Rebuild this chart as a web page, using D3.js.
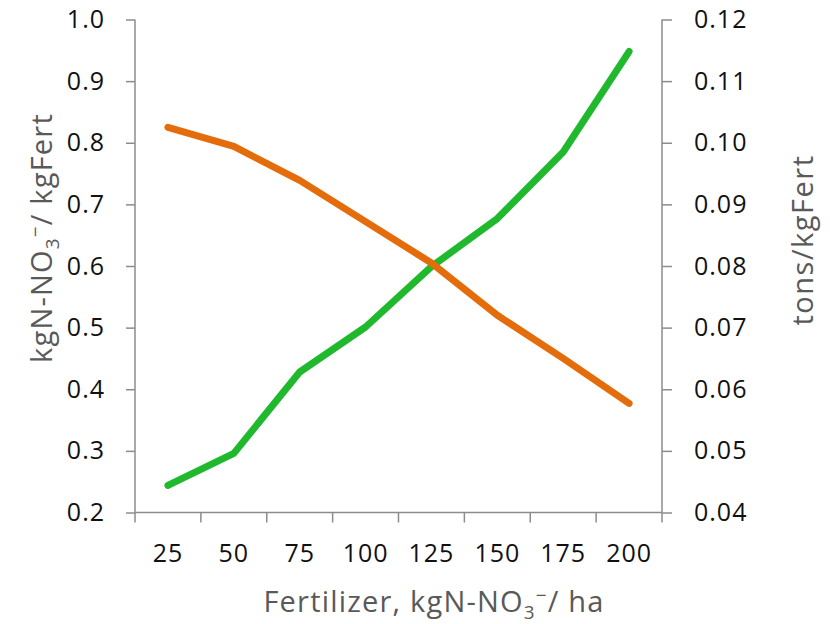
<!DOCTYPE html>
<html>
<head>
<meta charset="utf-8">
<script src="https://cdn.jsdelivr.net/npm/d3@7"></script>
<style>
  body { margin: 0; background: #fff; }
  svg text { font-family: "Open Sans", sans-serif; }
</style>
</head>
<body>
<div id="canvas"></div>
<script>
// data
var fertilizer = ["25", "50", "75", "100", "125", "150", "175", "200"];
var leaching = [0.244, 0.296, 0.428, 0.501, 0.599, 0.677, 0.785, 0.948];      // left axis, kgN-NO3/kgFert
var yieldPerFert = [0.1025, 0.0994, 0.0939, 0.0872, 0.0805, 0.0720, 0.0650, 0.0577]; // right axis, tons/kgFert
var leftTicks = [0.2, 0.3, 0.4, 0.5, 0.6, 0.7, 0.8, 0.9, 1.0];
var rightTicks = [0.04, 0.05, 0.06, 0.07, 0.08, 0.09, 0.10, 0.11, 0.12];

var W = 830, H = 624;
var plot = {left: 135, right: 662, top: 19.5, bottom: 512.5};

var svg = d3.select("#canvas").append("svg")
    .attr("width", W)
    .attr("height", H);

var x = d3.scaleBand().domain(fertilizer).range([plot.left, plot.right]).padding(0);
var yL = d3.scaleLinear().domain([0.2, 1.0]).range([plot.bottom, plot.top]);
var yR = d3.scaleLinear().domain([0.04, 0.12]).range([plot.bottom, plot.top]);

var axisColor = "#8c8c8c";
var tickColor = "#111";
var titleColor = "#595959";

// left axis
var gl = svg.append("g")
    .attr("transform", "translate(" + plot.left + ",0)")
    .call(d3.axisLeft(yL).tickValues(leftTicks).tickSize(9).tickPadding(21)
        .tickFormat(d3.format(".1f")));

// right axis
var gr = svg.append("g")
    .attr("transform", "translate(" + plot.right + ",0)")
    .call(d3.axisRight(yR).tickValues(rightTicks).tickSize(10).tickPadding(22)
        .tickFormat(d3.format(".2f")));

// bottom axis: labels centred in bands, ticks at the band edges
var gb = svg.append("g")
    .attr("transform", "translate(0," + plot.bottom + ")")
    .call(d3.axisBottom(x).tickSize(0).tickPadding(41));
var edges = fertilizer.map(function(d) { return x(d); }).concat([plot.right]);
gb.selectAll("line.edge")
    .data(edges)
    .enter().append("line")
    .attr("class", "edge")
    .attr("x1", function(d) { return d; })
    .attr("x2", function(d) { return d; })
    .attr("y1", 0)
    .attr("y2", 10);

[gl, gr, gb].forEach(function(g) {
    g.select(".domain").attr("stroke", axisColor).attr("stroke-width", 1.5);
    g.selectAll("line").attr("stroke", axisColor).attr("stroke-width", 1.5);
    g.selectAll("text").attr("fill", tickColor)
        .style("font-size", "25px").style("letter-spacing", "1px");
});
// plain lines for the axes, no end caps
gl.select(".domain").attr("d", "M0," + plot.top + "V" + plot.bottom);
gr.select(".domain").attr("d", "M0," + plot.top + "V" + plot.bottom);
gb.select(".domain").attr("d", "M" + plot.left + ",0H" + plot.right);
gb.selectAll(".tick text").attr("dy", "0.32em");

// lines
var lineL = d3.line()
    .x(function(d, i) { return x(fertilizer[i]) + x.bandwidth() / 2; })
    .y(function(d) { return yL(d); });
var lineR = d3.line()
    .x(function(d, i) { return x(fertilizer[i]) + x.bandwidth() / 2; })
    .y(function(d) { return yR(d); });

svg.append("path")
    .datum(leaching)
    .attr("d", lineL)
    .attr("fill", "none")
    .attr("stroke", "#20b92d")
    .attr("stroke-width", 7)
    .attr("stroke-linecap", "round")
    .attr("stroke-linejoin", "round");

svg.append("path")
    .datum(yieldPerFert)
    .attr("d", lineR)
    .attr("fill", "none")
    .attr("stroke", "#e46c0a")
    .attr("stroke-width", 7)
    .attr("stroke-linecap", "round")
    .attr("stroke-linejoin", "round");

// axis titles, NO3 with subscript 3 and raised minus (offsets in px so the tail sits on the baseline)
function no3(t, pre, post) {
    t.append("tspan").text(pre);
    t.append("tspan").attr("font-size", "0.65em").attr("dy", 7).text("3");
    t.append("tspan").attr("font-size", "0.65em").attr("dy", -17).text("\u2212");
    t.append("tspan").attr("dy", 10).text(post);
}

var tx = svg.append("text")
    .attr("x", 434)
    .attr("y", 612)
    .attr("text-anchor", "middle")
    .attr("fill", titleColor)
    .style("font-size", "29px")
    .style("letter-spacing", "1.2px");
no3(tx, "Fertilizer, kgN-NO", "/ ha");

var ty = svg.append("text")
    .attr("transform", "translate(52,238) rotate(-90)")
    .attr("text-anchor", "middle")
    .attr("fill", titleColor)
    .style("font-size", "29px")
    .style("letter-spacing", "1.2px");
no3(ty, "kgN-NO", "/ kgFert");

svg.append("text")
    .attr("transform", "translate(813,240) rotate(-90)")
    .attr("text-anchor", "middle")
    .attr("fill", titleColor)
    .style("font-size", "29px")
    .style("letter-spacing", "1.5px")
    .text("tons/kgFert");
</script>
</body>
</html>
